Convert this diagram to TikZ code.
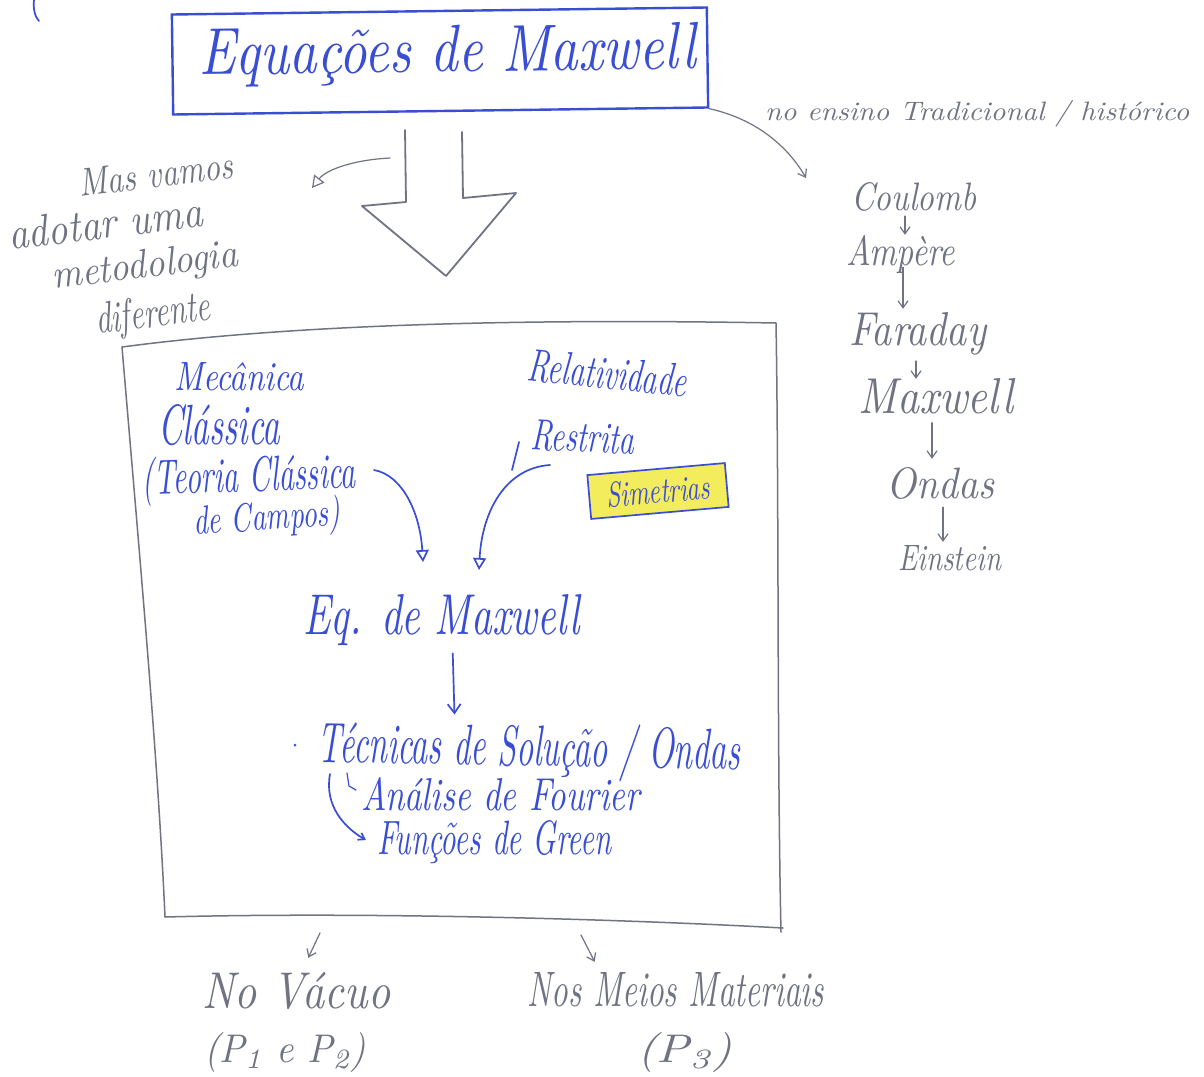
\documentclass[tikz,border=0pt]{standalone}
\usepackage{fontspec}
\usepackage{graphicx}
\usetikzlibrary{arrows.meta,calc}
\definecolor{ink}{RGB}{58,78,212}
\definecolor{pencil}{RGB}{112,116,130}
\definecolor{hl}{RGB}{243,236,92}
\newcommand\hw[3]{\resizebox{#1pt}{#2pt}{\itshape #3}}
\begin{document}
\begin{tikzpicture}[x=1pt,y=-1pt,
  bluetxt/.style={text=ink, inner sep=0pt, anchor=base west},
  graytxt/.style={text=pencil, inner sep=0pt, anchor=base west},
  pen/.style={draw=ink, line width=1.7pt, line cap=round, line join=round},
  pencilline/.style={draw=pencil, line width=1.2pt, line cap=round, line join=round},
  barb/.style={-{Straight Barb[length=7pt,width=10pt]}},
  openhead/.style={-{Triangle[open,length=12pt,width=13pt]}},
]
\useasboundingbox (0,0) rectangle (1204,1076);
\fill[white] (0,0) rectangle (1204,1076);

% cut-off stroke at top-left
\draw[pen] (34,0) .. controls (33,9) and (35,17) .. (39,21);

% title box
\node[draw=ink, line width=2.4pt, minimum width=535pt, minimum height=100pt,
      rotate=0.75, inner sep=0pt] (tbox) at (440,61) {};
\node[bluetxt, rotate=0.75] (title) at (199,75) {\hw{497}{46}{Equações de Maxwell}};

% big hollow arrow
\draw[pencilline, line width=1.8pt] (405,130) -- (406,202) -- (362,206) -- (446,276)
      -- (516,193) -- (463,198) -- (462,132);

% left note
\node[graytxt, rotate=7] (mas) at (80,197) {\hw{155}{27}{Mas vamos}};
\node[graytxt, rotate=7] (adotar) at (10,250) {\hw{195}{31}{adotar uma}};
\node[graytxt, rotate=7] (metod) at (53,289) {\hw{187}{28}{metodologia}};
\node[graytxt, rotate=7] (difer) at (97,334) {\hw{115}{31}{diferente}};
\coordinate (shaftL) at (390,158);
\coordinate (masTip) at (312,188);
\draw[pencilline, openhead] (shaftL) .. controls (352,160) and (326,170) .. (masTip);

% traditional chain
\node[graytxt] (trad) at (765,120) {\hw{424}{20}{no ensino Tradicional / histórico}};
\node[graytxt] (coul) at (851,210) {\hw{125}{28}{Coulomb}};
\node[graytxt] (amp) at (846,265) {\hw{109}{30}{Ampère}};
\node[graytxt] (far) at (849,345) {\hw{137}{33}{Faraday}};
\node[graytxt] (maxw) at (858,413) {\hw{155}{35}{Maxwell}};
\node[graytxt] (ondas) at (886,498) {\hw{108}{31}{Ondas}};
\node[graytxt] (ein) at (898,570) {\hw{103}{25}{Einstein}};
\coordinate (coulTip) at (806,178);
\draw[pencilline, barb] (tbox.south east) .. controls (760,120) and (790,150) .. (coulTip);
\coordinate (x1) at (905,0);
\coordinate (x2) at (903,0);
\coordinate (x3) at (916,0);
\coordinate (x4) at (932,0);
\coordinate (x5) at (943,0);
\draw[pencilline, barb, shorten <=5pt, shorten >=0pt] (coul.south -| x1) -- (amp.north -| x1);
\draw[pencilline, barb, shorten <=-6pt, shorten >=3pt] (amp.south -| x2) -- (far.north -| x2);
\draw[pencilline, barb, shorten <=6pt, shorten >=-1pt] (far.south -| x3) -- (maxw.north -| x3);
\draw[pencilline, barb, shorten <=9pt, shorten >=8pt] (maxw.south -| x4) -- (ondas.north -| x4);
\draw[pencilline, barb, shorten <=8pt, shorten >=3pt] (ondas.south -| x5) -- (ein.north -| x5);

% big frame
\coordinate (fA) at (122,347);
\coordinate (fB) at (776,323);
\coordinate (fC) at (781,932);
\coordinate (fD) at (165,917);
\draw[pencilline, line width=1.5pt] (fA) .. controls (280,326) and (500,318) .. (fB)
  .. controls (779,500) and (777,750) .. (fC);
\draw[pencilline, line width=1.5pt] (fA) .. controls (140,560) and (158,760) .. (fD)
  .. controls (350,912) and (600,918) .. (783,928);

% inside frame
\node[bluetxt] (mec) at (174,390) {\hw{130}{28}{Mecânica}};
\node[bluetxt] (cla) at (158,444) {\hw{122}{40}{Clássica}};
\node[bluetxt, rotate=2] (teoria) at (142,495) {\hw{214}{37}{(Teoria Clássica}};
\node[bluetxt, rotate=4] (campos) at (194,535) {\hw{147}{30}{de Campos)}};
\node[bluetxt, rotate=-6] (rel) at (526,380) {\hw{160}{32}{Relatividade}};
\node[bluetxt, rotate=-3] (rest) at (530,449) {\hw{104}{30}{Restrita}};
\node[draw=ink, fill=hl, line width=1.7pt, rotate=5, minimum width=138pt,
      minimum height=44pt, inner sep=0pt, text=ink] (sim) at (658,491) {\hw{104}{25}{Simetrias}};

\node[bluetxt] (eq) at (303,634) {\hw{277}{40}{Eq. de Maxwell}};
\coordinate (tL) at (374,470);
\coordinate (tLend) at (423,562);
\draw[pen, openhead] (tL) .. controls (402,475) and (420,512) .. (tLend);
\coordinate (rHook) at (519,442);
\coordinate (rS) at (550,465);
\coordinate (rEnd) at (479,570);
\draw[pen] (512,470) -- (rHook);
\draw[pen, openhead] (rS) .. controls (505,468) and (482,512) .. (rEnd);

\node[bluetxt, rotate=-1] (tec) at (317,762) {\hw{423}{43}{Técnicas de Solução / Ondas}};
\node[bluetxt] (fou) at (361,810) {\hw{279}{33}{Análise de Fourier}};
\node[bluetxt] (green) at (377,854) {\hw{234}{34}{Funções de Green}};
\draw[pen, -{Straight Barb[length=9pt,width=13pt]}] ($(eq.south)+(11,8)$) -- ($(tec.north)+(-75,-8)$);
\fill[ink] (295,745) circle (1.5pt);
\coordinate (lS) at (330,774);
\coordinate (lE) at (366,840);
\draw[pen, -{Straight Barb[length=6pt,width=8pt]}] (lS) .. controls (324,806) and (345,828) .. (lE);
\draw[pen, line width=1.2pt] (347,773) -- (349,786) -- (356,790);

% below frame
\node[graytxt] (vac) at (202,1008) {\hw{188}{36}{No Vácuo}};
\node[graytxt] (p12) at (204,1062) {\hw{162}{30}{(P\textsubscript{1} e P\textsubscript{2})}};
\node[graytxt] (meios) at (527,1006) {\hw{297}{34}{Nos Meios Materiais}};
\node[graytxt] (p3) at (637,1062) {\hw{95}{30}{(P\textsubscript{3})}};
\coordinate (a1s) at (320,933);
\coordinate (a2s) at (581,935);
\draw[pencilline, barb] (a1s) -- ($(vac.north)+(12,-14)$);
\draw[pencilline, barb] (a2s) -- ($(meios.north)+(-81,-10)$);
\end{tikzpicture}
\end{document}
